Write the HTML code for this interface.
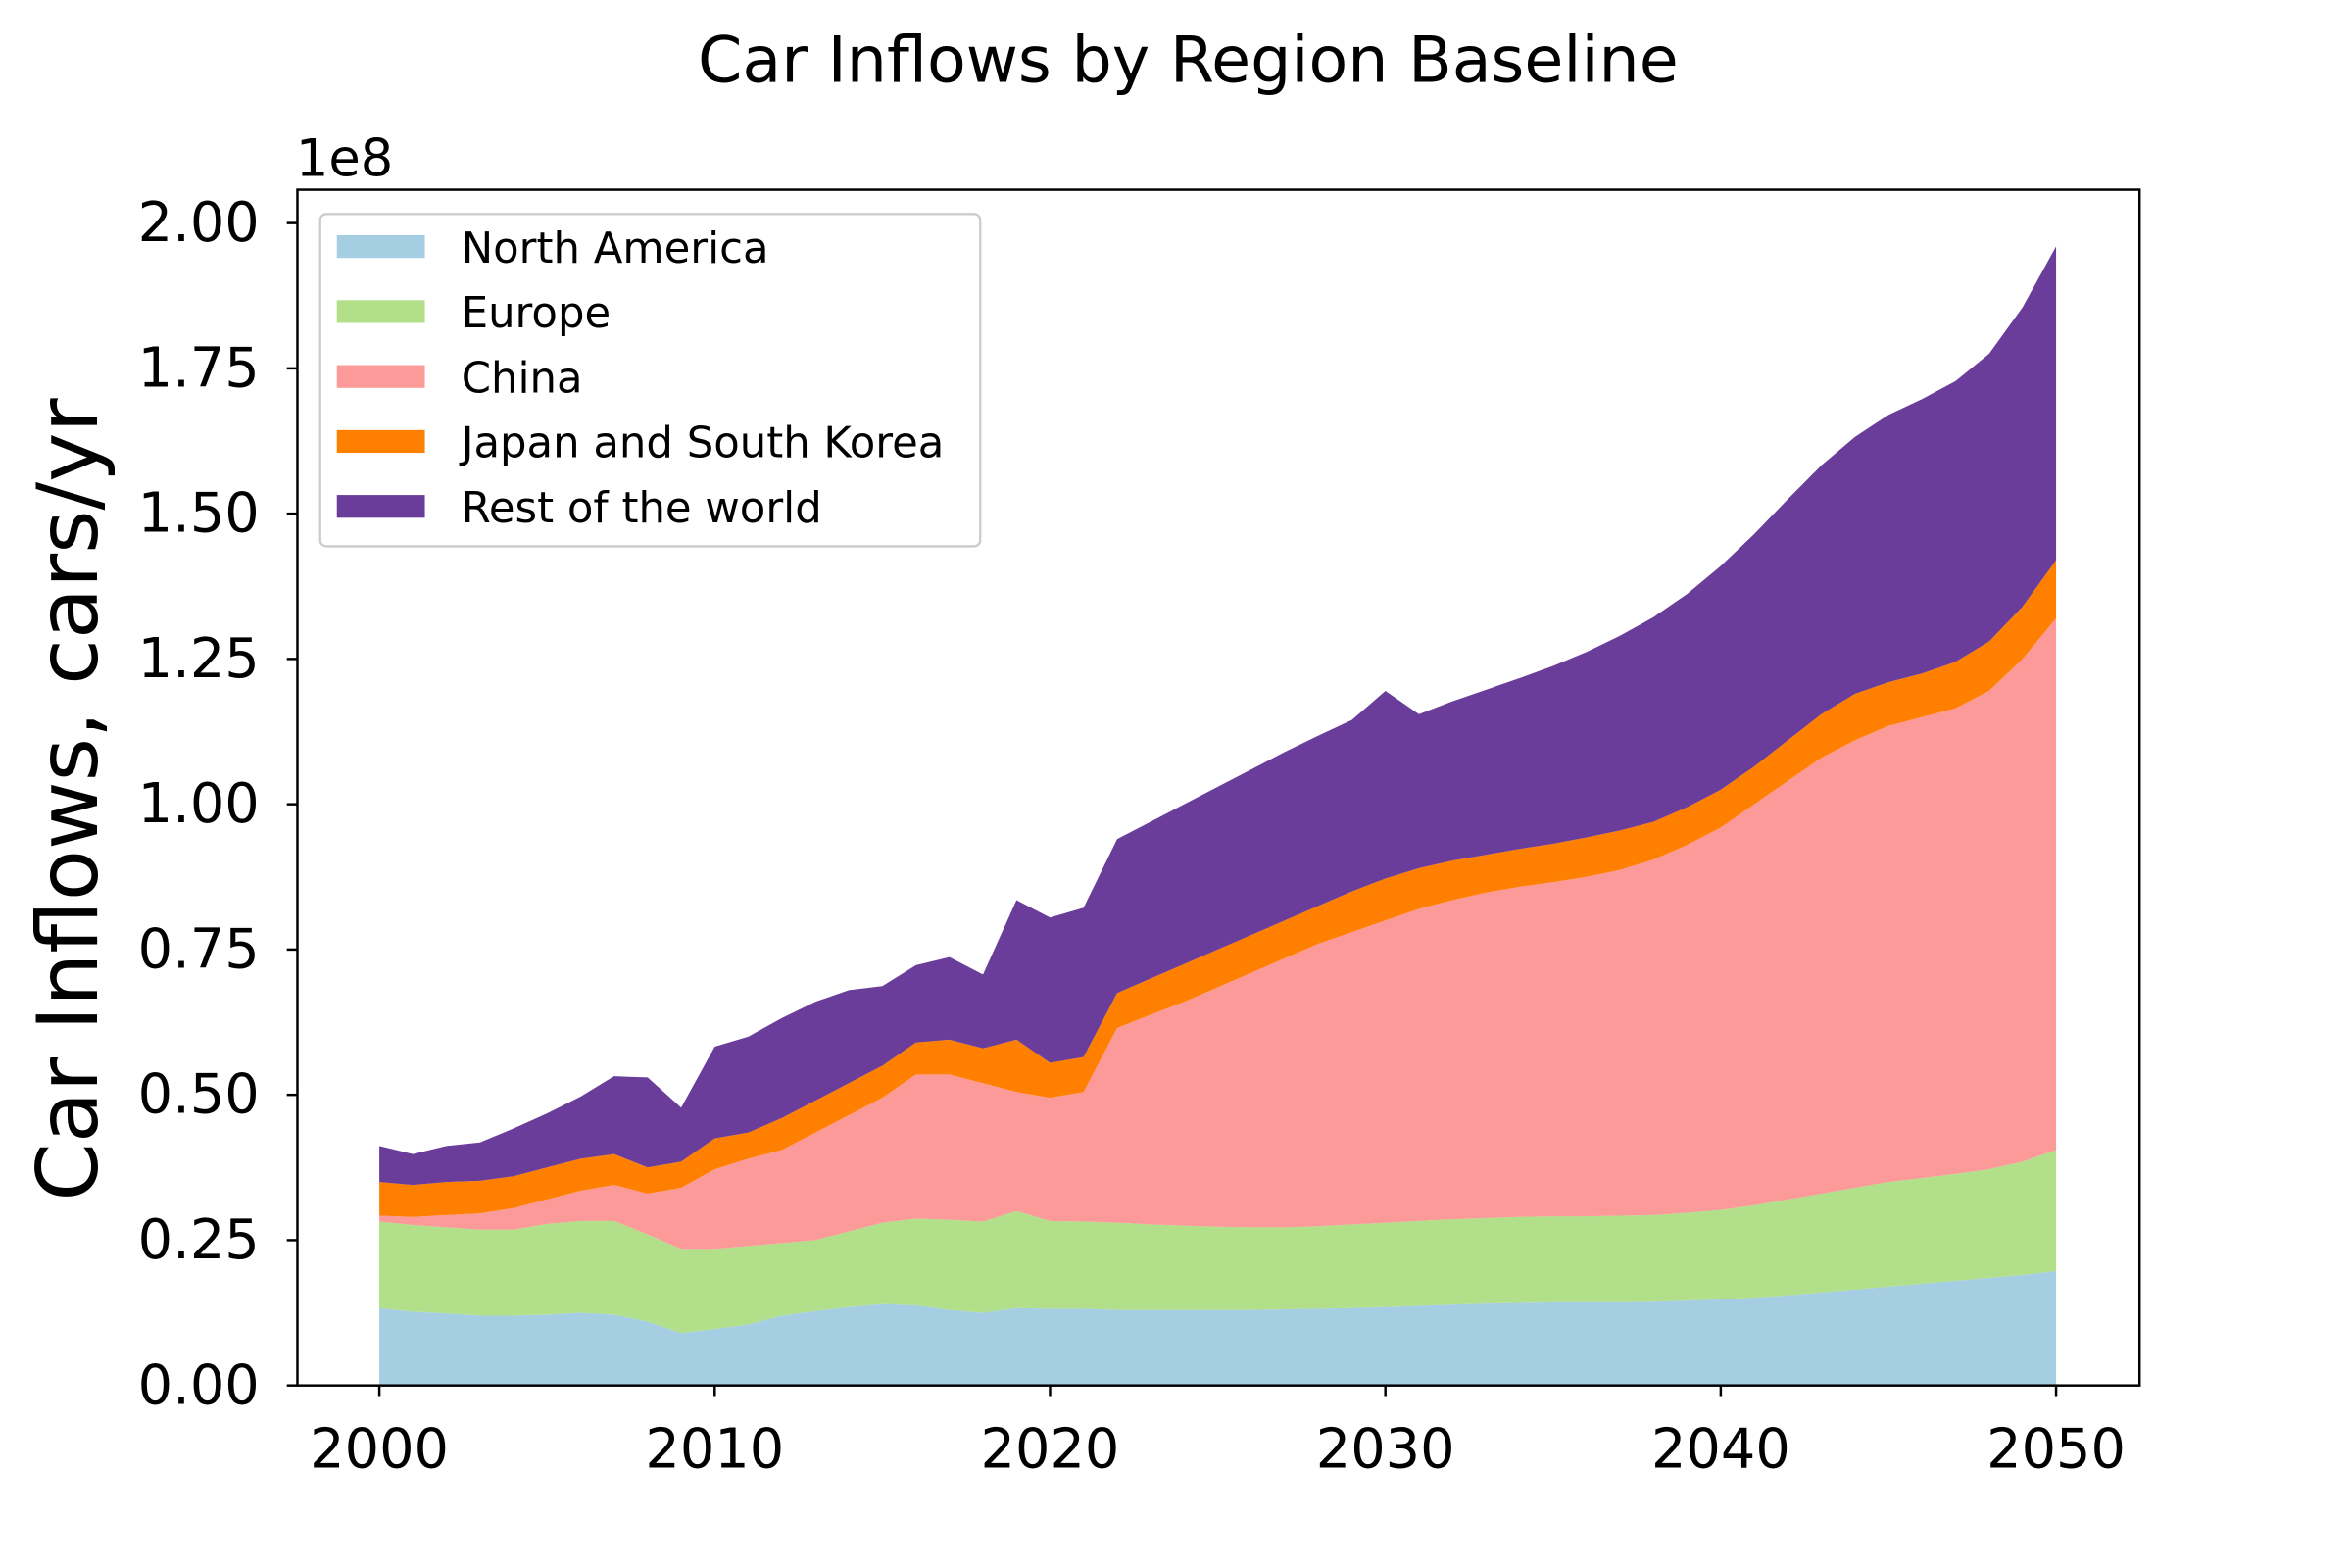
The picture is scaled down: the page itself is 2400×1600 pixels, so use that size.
<!DOCTYPE html>
<html><head><meta charset="utf-8"><style>
html,body{margin:0;padding:0;background:#fff;}
svg{display:block;font-family:"DejaVu Sans","Liberation Sans",sans-serif;}
</style></head><body>
<svg id="chart" width="2400" height="1600" viewBox="0 0 1550 1033.33" xmlns="http://www.w3.org/2000/svg">
<rect width="1550" height="1033.33" fill="#fff"/>
<text x="783" y="54" font-size="42" text-anchor="middle">Car Inflows by Region Baseline</text>
<text x="195" y="116" font-size="34">1e8</text>
<text transform="translate(64,527) rotate(-90)" font-size="55" text-anchor="middle">Car Inflows, cars/yr</text>
<g id="areas"></g>
<g id="axes"></g>
<g id="legend"></g>
</svg>
<script>
const years = [];
for (let y = 2000; y <= 2050; y++) years.push(y);
const seriesNames = ["North America","Europe","China","Japan and South Korea","Rest of the world"];
const seriesColors = ["#a6cee3","#b2df8a","#fb9a99","#ff7f00","#6a3d9a"];
// stacked (cumulative) tops in units of 1e8
const naTop = [.133,.127,.124,.12,.12,.122,.125,.122,.11,.09,.097,.105,.12,.128,.135,.14,.138,.13,.125,.133,.132,.132,.13,.13,.13,.13,.13,.131,.132,.133,.135,.137,.139,.141,.142,.143,.143,.143,.144,.146,.148,.151,.155,.16,.165,.17,.175,.18,.185,.19,.197];
const europeTop = [.282,.276,.272,.268,.268,.278,.283,.283,.26,.235,.235,.24,.245,.25,.265,.28,.287,.285,.282,.30,.283,.282,.28,.277,.275,.273,.272,.272,.274,.277,.28,.283,.286,.288,.29,.291,.291,.292,.293,.297,.302,.31,.32,.33,.34,.35,.357,.364,.372,.385,.405];
const chinaTop = [.292,.29,.293,.296,.305,.32,.335,.345,.33,.34,.372,.39,.405,.435,.465,.495,.535,.535,.52,.505,.495,.505,.615,.638,.66,.685,.71,.735,.76,.78,.80,.82,.835,.848,.858,.866,.875,.887,.905,.93,.96,1.0,1.04,1.08,1.11,1.135,1.15,1.165,1.195,1.25,1.32];
const jskTop = [.35,.345,.35,.352,.36,.375,.39,.398,.375,.385,.425,.435,.46,.49,.52,.55,.59,.595,.58,.595,.555,.565,.675,.70,.725,.75,.775,.8,.825,.85,.872,.89,.903,.913,.923,.932,.943,.955,.97,.995,1.025,1.065,1.11,1.155,1.19,1.21,1.225,1.245,1.28,1.34,1.42];
const restTop = [.412,.398,.412,.418,.442,.468,.497,.532,.53,.478,.583,.60,.632,.66,.68,.687,.723,.737,.707,.835,.805,.822,.94,.97,1.0,1.03,1.06,1.09,1.118,1.145,1.195,1.155,1.177,1.197,1.217,1.238,1.262,1.29,1.322,1.362,1.41,1.465,1.525,1.583,1.632,1.67,1.697,1.728,1.775,1.855,1.96];
const xTicks = [2000,2010,2020,2030,2040,2050];
const yTicks = [0,0.25,0.5,0.75,1.0,1.25,1.5,1.75,2.0];
const yTickLabels = ["0.00","0.25","0.50","0.75","1.00","1.25","1.50","1.75","2.00"];

const L=196,R=1410,T=125,B=913;
const xs = y => 250 + (y-2000)*(1355-250)/50;
const ys = v => 913 - v*(913-147)/2.0;
const NS="http://www.w3.org/2000/svg";
function mk(tag, attrs, parent){const e=document.createElementNS(NS,tag);for(const k in attrs)e.setAttribute(k,attrs[k]);parent.appendChild(e);return e;}

const tops=[naTop,europeTop,chinaTop,jskTop,restTop];
const areaNames=["area-north-america","area-europe","area-china","area-japan-south-korea","area-rest-of-world"];
const ag=document.getElementById('areas');
tops.forEach((top,i)=>{
  const bot = i===0 ? years.map(()=>0) : tops[i-1];
  let d = years.map((y,j)=>(j?'L':'M')+xs(y).toFixed(2)+','+ys(top[j]).toFixed(2)).join('');
  for(let j=years.length-1;j>=0;j--) d+='L'+xs(years[j]).toFixed(2)+','+ys(bot[j]).toFixed(2);
  const p=mk('path',{d:d+'Z',fill:seriesColors[i],stroke:'none'},ag);
  
  
});

const ax=document.getElementById('axes');
const frame=mk('rect',{x:L,y:T,width:R-L,height:B-T,fill:'none',stroke:'#000','stroke-width':1.6},ax);


xTicks.forEach(t=>{
  const x=xs(t);
  const tk=mk('line',{x1:x,x2:x,y1:B,y2:B+7,stroke:'#000','stroke-width':1.6},ax);
  
  
  const tx=mk('text',{x:x,y:967,'font-size':36,'text-anchor':'middle'},ax);
  tx.textContent=t;
  
  
});
yTicks.forEach((t,i)=>{
  const y=ys(t);
  const tk=mk('line',{x1:L-7,x2:L,y1:y,y2:y,stroke:'#000','stroke-width':1.6},ax);
  
  
  const tx=mk('text',{x:L-25,y:y+12,'font-size':36,'text-anchor':'end'},ax);
  tx.textContent=yTickLabels[i];
  
  
});

const lg=document.getElementById('legend');
const box=mk('rect',{x:211,y:141,width:435,height:219,rx:4,fill:'#fff','fill-opacity':0.8,stroke:'#ccc','stroke-width':1.5},lg);


seriesNames.forEach((n,i)=>{
  const cy=163+i*42.8;
  const sw=mk('rect',{x:222,y:cy-8,width:58,height:15,fill:seriesColors[i]},lg);
  
  
  const tx=mk('text',{x:304,y:cy+10,'font-size':28},lg);
  tx.textContent=n;
  
  
});
</script>
</body></html>
